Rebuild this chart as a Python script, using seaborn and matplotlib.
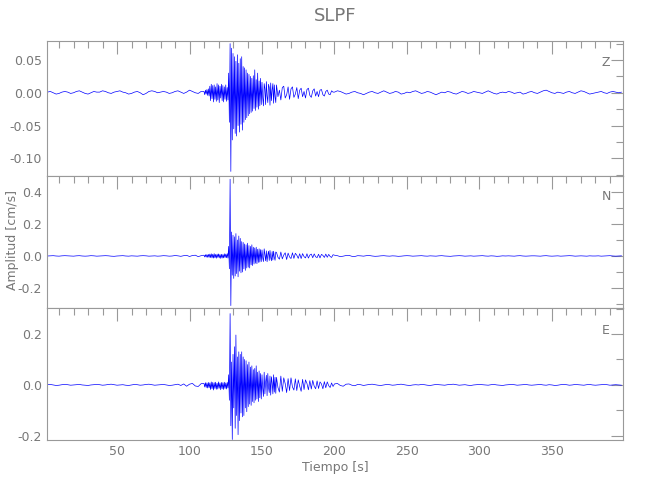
import numpy as np
import pandas as pd
import matplotlib
matplotlib.use("Agg")
import matplotlib.pyplot as plt
import seaborn as sns
from matplotlib.ticker import MultipleLocator, FormatStrFormatter

# ---------------- data (amplitudes in 1e-3 cm/s) ----------------
# sampling segments: (start time [s], step [s])
seg_start = [2.0, 110.0, 160.0, 200.0]
seg_step = [2.0, 0.5, 1.0, 2.0]

z_pre = [1, 2, 0, -2, -1, 1, 2, 1, -1, 0,
         2, 3, 1, -1, -2, 0, 2, 1, 1, 3,
         2, 0, -1, 1, 2, 3, 1, 0, -2, -1,
         1, 2, 0, -3, -1, 2, 3, 2, 0, 1,
         2, 1, -1, 0, 2, 3, 1, -1, 1, 4,
         2, 0, -1, 2]
z_burst = [2, -3, 4, -2, 5, -4, 6, -5,
           10, -12, 13, -9, 11, -14, 12, -10, 9, -13,
           14, -11, 12, -15, 10, -8, 13, -12, 11, -14,
           9, -10, 12, -13, 8, -11,
           30, -45, 75, -120, 68, -72, 60, -55,
           55, -62, 48, -66, 58, -50, 45, -60, 52, -48,
           55, -57, 40, -45, 38, -41, 35, -38,
           30, -35, 28, -32, 25, -30, 22, -28, 26, -24,
           35, -27, 20, -22, 30, -25, 18, -20, 22, -18,
           16, -8, -20, 14, 6, -18, 17, -5, -15, 13,
           8, -19, 15, -12, 4, 14, -16, 12, -6, -15]
z_coda = [12, -6, 4, -11, 8, 10, -8, -3, 9, -10,
          6, 9, -7, -2, 8, -9, 4, 7, -6, 2,
          -8, 5, 7, -4, -7, 3, 6, -5, 2, -6,
          4, 5, -3, -5, 2, 4, -2, -3, 3, 1]
z_post = [1, 3, 2, 0, -2, -1, 1, 2, 0, -1,
          -3, -1, 1, 2, 0, -1, 1, 3, 1, -1,
          0, 2, 1, -2, -1, 1, 0, 2, 3, 1,
          -1, 0, 2, 1, -1, -3, -1, 1, 0, 2,
          1, -1, -2, 0, 2, 1, -1, 0, 2, 1,
          0, -1, 1, 3, 1, -1, -2, 0, 1, 0,
          2, 1, -1, 0, 1, -2, -1, 1, 2, 0,
          -1, 1, 3, 4, 2, 0, -1, 1, 0, -1,
          1, 2, 0, -1, 1, 3, 2, 0, -2, -1,
          0, 1, 2, 0, -1, 1, 2, 1, 0, 1]

n_pre = [0, 1, 2, 0, -1, 1, 2, 1, 0, -1,
         1, 2, 0, -1, 0, 2, 1, -1, 0, 1,
         2, 1, -1, -2, 0, 1, 2, 0, -1, 1,
         0, -1, 1, 2, 1, -1, 0, 1, -1, 0,
         2, 1, -1, 0, 3, 1, -2, 2, 4, -3,
         3, 5, -4, 2]
n_burst = [5, -6, 8, -7, 9, -8, 10, -9,
           12, -10, 14, -12, 11, -13, 15, -11, 10, -14,
           12, -9, 13, -12, 10, -15, 11, -13, 9, -12,
           14, -10, 12, -11, 15, -13,
           60, -80, 480, -310, 150, -120, 130, -140,
           120, -125, 140, -110, 100, -130, 125, -95, 110, -105,
           90, -100, 85, -80, 75, -90, 70, -75,
           80, -70, 65, -75, 60, -55, 70, -60, 55, -50,
           50, -45, 55, -48, 42, -40, 45, -38, 40, -35,
           38, -12, -35, 45, 10, -30, 32, -36, 8, 30,
           -28, 35, -10, -30, 28, -25, 30, -8, -27, 25]
n_coda = [22, -8, -20, 25, -18, 6, 20, -22, 18, -6,
          -16, 20, -15, 17, 5, -15, 14, -16, 15, -4,
          -12, 14, -13, 6, 12, -11, 13, -5, -10, 11,
          -12, 10, 4, -9, 12, -8, 10, -3, -9, 8]
n_post = [5, 2, -4, -1, 3, 4, -2, -3, 2, 1,
          -1, 2, 3, 0, -2, -1, 1, 2, 0, -1,
          1, 0, -2, -1, 1, 2, 1, -1, 0, 1,
          2, 0, -1, 1, 0, -1, 1, 2, 0, -1,
          -2, 0, 1, 2, 1, -1, 0, 1, -1, 0,
          1, 2, 0, -1, 1, 0, -2, -1, 1, 0,
          1, 0, -1, 1, 2, 0, -1, 0, 1, 1,
          0, -1, 1, 2, 0, -1, 0, 1, -1, 0,
          1, 2, 1, -1, 0, 1, 0, -1, 1, 0,
          0, 1, -1, 0, 1, 2, 0, -1, 0, 1]

e_pre = [1, 2, 0, -2, -1, 1, 2, 1, -1, 0,
         1, 2, 0, -1, -2, 0, 1, 2, 1, -1,
         0, 2, 3, 1, -1, 0, 1, -1, -2, 0,
         2, 1, -1, 0, 2, 3, 1, -1, 0, 1,
         2, 0, -2, -1, 1, 3, -2, 4, -5, 3,
         6, -4, -6, 5]
e_burst = [6, -8, 9, -10, 8, -12, 10, -11,
           8, -18, 12, -15, 10, -20, 9, -14, 11, -17,
           7, -16, 12, -13, 8, -19, 10, -15, 9, -18,
           11, -14, 8, -16, 10, -12,
           40, -60, 280, -160, 90, -214, 120, -90,
           150, -170, 196, -120, 110, -195, 130, -140, 120, -110,
           130, -125, 110, -120, 100, -90, 95, -105,
           80, -85, 90, -75, 70, -80, 75, -65, 60, -70,
           65, -60, 75, -55, 50, -65, 55, -50, 45, -55,
           40, -15, -45, 50, -35, 12, 38, -42, 45, -10,
           -30, 35, -40, 32, 8, -35, 40, -28, 30, -33]
e_coda = [30, -10, -28, 35, -25, 28, 5, -30, 25, -22,
          28, -8, -20, 24, -22, 20, -5, -25, 22, -18,
          20, 6, -19, 17, -16, 18, -5, -15, 16, -14,
          12, 4, -15, 13, -11, 12, -3, -10, 8, -6]
e_post = [4, 6, -2, -5, 3, 4, -1, -3, 2, 1,
          -2, 0, 2, 3, 1, -1, -2, 0, 2, 1,
          -1, 0, 2, 3, 1, -1, -2, 0, 1, 0,
          2, 1, -1, -2, 0, 2, 1, 0, -1, 1,
          2, 3, 1, -1, 0, 1, -1, -2, 0, 1,
          2, 1, 0, -1, 1, 2, 0, -1, -2, 0,
          1, 2, 1, -1, 0, 1, 2, 0, -1, 0,
          1, 2, 0, -1, 1, 0, -2, -1, 1, 2,
          1, -1, 0, 2, 1, 0, -1, 1, 2, 0,
          -1, 0, 1, 2, 1, -1, 0, 1, 0, -1]

components = ["Z", "N", "E"]
title = "SLPF"
ylabel = "Amplitud [cm/s]"
xlabel = "Tiempo [s]"
xticks = [50, 100, 150, 200, 250, 300, 350]


def build(segs):
    ts, vs = [], []
    for s0, ds, vals in zip(seg_start, seg_step, segs):
        ts.append(s0 + ds * np.arange(len(vals)))
        vs.append(np.asarray(vals, dtype=float) / 1000.0)
    return np.concatenate(ts), np.concatenate(vs)


traces = {
    "Z": build([z_pre, z_burst, z_coda, z_post]),
    "N": build([n_pre, n_burst, n_coda, n_post]),
    "E": build([e_pre, e_burst, e_coda, e_post]),
}

# ---------------- style ----------------
sns.set_theme(style="white")
plt.rcParams["font.family"] = ["DejaVu Sans"]
txt = "#777777"
edge = "#999999"

fig = plt.figure(figsize=(6.5, 5.0), dpi=100)
L, W = 47 / 650, (623 - 47) / 650
edges_px = [41, 176, 308, 440]
ylims = {"Z": (-0.127, 0.079), "N": (-0.325, 0.50), "E": (-0.216, 0.302)}
ymaj = {"Z": 0.05, "N": 0.2, "E": 0.2}
ymin = {"Z": 0.025, "N": 0.1, "E": 0.1}
lab_y = {"Z": 62, "N": 197, "E": 331}

for i, comp in enumerate(components):
    top = 1 - edges_px[i] / 500
    bot = 1 - edges_px[i + 1] / 500
    ax = fig.add_axes([L, bot, W, top - bot])
    t, v = traces[comp]
    df = pd.DataFrame({"t": t, "v": v})
    sns.lineplot(data=df, x="t", y="v", ax=ax, color="#0000ff", linewidth=0.5,
                 estimator=None, sort=False)
    ax.set_xlim(1.7, 399)
    ax.set_ylim(*ylims[comp])
    ax.xaxis.set_major_locator(MultipleLocator(50))
    ax.xaxis.set_minor_locator(MultipleLocator(10))
    ax.yaxis.set_major_locator(MultipleLocator(ymaj[comp]))
    ax.yaxis.set_minor_locator(MultipleLocator(ymin[comp]))
    ax.tick_params(which="both", direction="in", top=True, right=True,
                   color=edge, labelcolor=txt, labelsize=9, width=0.8)
    ax.tick_params(which="major", length=9)
    ax.tick_params(which="minor", length=5)
    for sp in ax.spines.values():
        sp.set_color(edge)
        sp.set_linewidth(0.8)
    ax.set_xlabel("")
    ax.set_ylabel("")
    fmt = "%.2f" if comp == "Z" else "%.1f"
    ax.yaxis.set_major_formatter(FormatStrFormatter(fmt))
    if i < 2:
        ax.tick_params(labelbottom=False)
    else:
        ax.set_xticks(xticks)
    ax.text(606 / 650, 1 - lab_y[comp] / 500, comp, transform=fig.transFigure,
            ha="center", va="center", color=txt, fontsize=9)

fig.text((47 + 623) / 2 / 650, 1 - 16 / 500, title, ha="center", va="center",
         color=txt, fontsize=13)
fig.text(335 / 650, 1 - 467 / 500, xlabel, ha="center", va="center",
         color=txt, fontsize=9)
fig.text(13 / 650, 1 - 240 / 500, ylabel, ha="center", va="center",
         rotation=90, color=txt, fontsize=9)

fig.savefig("out.png", dpi=100, facecolor="white")
